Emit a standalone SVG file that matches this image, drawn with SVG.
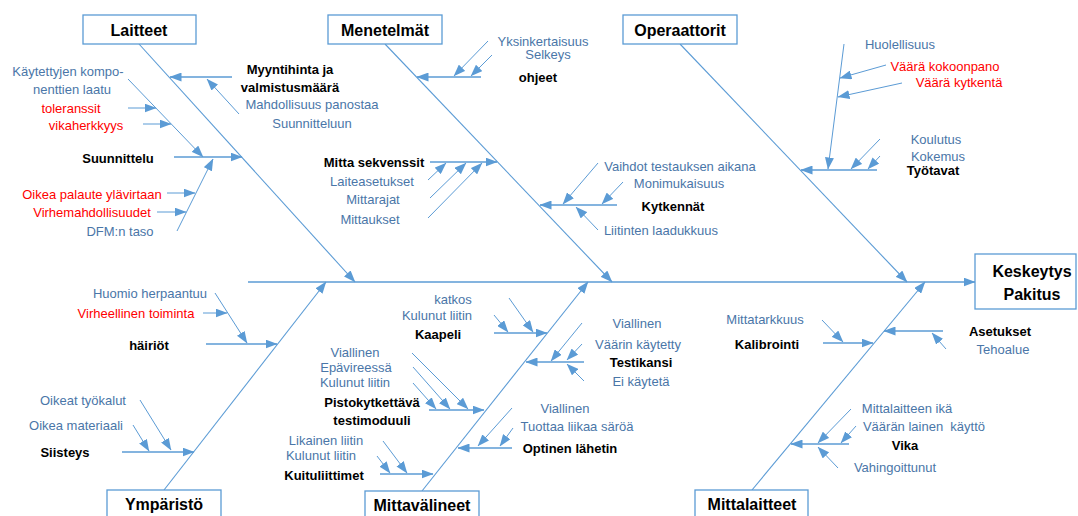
<svg xmlns="http://www.w3.org/2000/svg" width="1078" height="516" viewBox="0 0 1078 516">
<defs>
<marker id="ah" markerUnits="userSpaceOnUse" markerWidth="12" markerHeight="9" refX="11.5" refY="4.5" orient="auto">
<path d="M0,0 L12,4.5 L0,9 z" fill="#5B9BD5"/>
</marker>
<style>
.box{fill:#fff;stroke:#5B9BD5;stroke-width:1.3}
.title{font-family:"Liberation Sans",Arial,sans-serif;font-size:16px;font-weight:bold;fill:#000;text-anchor:middle}
.lb{font-family:"Liberation Sans",Arial,sans-serif;font-size:13px;font-weight:bold;fill:#000;text-anchor:middle}
.bl{font-family:"Liberation Sans",Arial,sans-serif;font-size:13px;fill:#4A76A8;text-anchor:middle}
.rd{font-family:"Liberation Sans",Arial,sans-serif;font-size:13px;fill:#FF0000;text-anchor:middle}
.bone{fill:none;stroke:#5B9BD5;stroke-width:1.1;marker-end:url(#ah)}
.sub{fill:none;stroke:#5B9BD5;stroke-width:1.5;marker-end:url(#ah)}
.twig{fill:none;stroke:#5B9BD5;stroke-width:1;marker-end:url(#ah)}
</style>
</defs>
<rect width="1078" height="516" fill="#fff"/>

<g id="connectors">
<path class="sub" d="M248,282 H975"/>
<path class="bone" d="M139,44 L355,282"/>
<path class="bone" d="M385,44 L612,282"/>
<path class="bone" d="M680,44 L907,282"/>
<path class="bone" d="M164,490 L326,282"/>
<path class="bone" d="M422,491 L588,282"/>
<path class="bone" d="M752,490 L925,282"/>

<path class="sub" d="M232,77 H170"/>
<path class="twig" d="M239,114 L207,79"/>
<path class="twig" d="M128,79 L203,157"/>
<path class="twig" d="M128,108 H156"/>
<path class="twig" d="M143,124 H171"/>
<path class="sub" d="M174,157 H242"/>
<path class="twig" d="M177,231 L213,159"/>
<path class="twig" d="M167,193 H195"/>
<path class="twig" d="M157,212 H186"/>

<path class="sub" d="M481,77 H417"/>
<path class="twig" d="M488,41 L454,76"/>
<path class="twig" d="M492,55 L471,76"/>
<path class="sub" d="M430,162 H497"/>
<path class="twig" d="M428,180 L446,163"/>
<path class="twig" d="M430,198 L466,163"/>
<path class="twig" d="M428,218 L482,163"/>
<path class="sub" d="M617,205 H540"/>
<path class="twig" d="M598,163 L563,204"/>
<path class="twig" d="M623,182 L602,204"/>
<path class="twig" d="M598,230 L576,207"/>

<path class="sub" d="M877,170 H801"/>
<path class="twig" d="M844,44 L828,169"/>
<path class="twig" d="M886,65 L840,78"/>
<path class="twig" d="M902,83 L838,97"/>
<path class="twig" d="M880,139 L851,169"/>
<path class="twig" d="M880,156 L868,169"/>

<path class="twig" d="M203,313 H227"/>
<path class="twig" d="M215,293 L247,343"/>
<path class="sub" d="M206,344 H277"/>
<path class="sub" d="M122,452 H194"/>
<path class="twig" d="M140,400 L171,450"/>
<path class="twig" d="M133,425 L149,451"/>

<path class="sub" d="M494,333 H547"/>
<path class="twig" d="M509,298 L533,332"/>
<path class="twig" d="M494,315 L508,332"/>
<path class="sub" d="M584,362 H526"/>
<path class="twig" d="M582,323 L551,361"/>
<path class="twig" d="M582,344 L567,360"/>
<path class="twig" d="M584,381 L567,364"/>
<path class="sub" d="M429,410 H484"/>
<path class="twig" d="M412,353 L468,409"/>
<path class="twig" d="M413,367 L450,409"/>
<path class="twig" d="M413,383 L436,409"/>
<path class="sub" d="M512,448 H458"/>
<path class="twig" d="M512,408 L478,446"/>
<path class="twig" d="M513,428 L500,446"/>
<path class="sub" d="M380,474 H433"/>
<path class="twig" d="M383,441 L407,473"/>
<path class="twig" d="M377,456 L390,473"/>

<path class="sub" d="M823,343 H873"/>
<path class="twig" d="M822,320 L843,342"/>
<path class="sub" d="M943,331 H884"/>
<path class="twig" d="M946,349 L932,333"/>
<path class="sub" d="M849,444 H791"/>
<path class="twig" d="M851,409 L818,443"/>
<path class="twig" d="M856,426 L841,443"/>
<path class="twig" d="M838,468 L818,447"/>
</g>

<g id="laitteet">
<rect class="box" x="83" y="15" width="113" height="29"/>
<text class="title" x="139" y="36">Laitteet</text>
<text class="lb" x="290" y="74">Myyntihinta ja</text>
<text class="lb" x="290" y="92">valmistusmäärä</text>
<text class="bl" x="312" y="109">Mahdollisuus panostaa</text>
<text class="bl" x="312" y="128">Suunnitteluun</text>
<text class="bl" x="68" y="76">Käytettyjen kompo-</text>
<text class="bl" x="72" y="94">nenttien laatu</text>
<text class="rd" x="71" y="113">toleranssit</text>
<text class="rd" x="86" y="130">vikaherkkyys</text>
<text class="lb" x="118" y="163">Suunnittelu</text>
<text class="rd" x="92" y="199">Oikea palaute ylävirtaan</text>
<text class="rd" x="92" y="217">Virhemahdollisuudet</text>
<text class="bl" x="120" y="236">DFM:n taso</text>
</g>

<g id="menetelmat">
<rect class="box" x="328" y="15" width="114" height="29"/>
<text class="title" x="385" y="36">Menetelmät</text>
<text class="bl" x="543" y="46">Yksinkertaisuus</text>
<text class="bl" x="548" y="59">Selkeys</text>
<text class="lb" x="538" y="82">ohjeet</text>
<text class="lb" x="374" y="167">Mitta sekvenssit</text>
<text class="bl" x="372" y="186">Laiteasetukset</text>
<text class="bl" x="373" y="204">Mittarajat</text>
<text class="bl" x="370" y="224">Mittaukset</text>
<text class="bl" x="680" y="171">Vaihdot testauksen aikana</text>
<text class="bl" x="679" y="188">Monimukaisuus</text>
<text class="lb" x="673" y="211">Kytkennät</text>
<text class="bl" x="661" y="235">Liitinten laadukkuus</text>
</g>

<g id="operaattorit">
<rect class="box" x="623" y="15" width="114" height="29"/>
<text class="title" x="680" y="36">Operaattorit</text>
<text class="bl" x="900" y="49">Huolellisuus</text>
<text class="rd" x="945" y="71">Väärä kokoonpano</text>
<text class="rd" x="959" y="87">Väärä kytkentä</text>
<text class="bl" x="936" y="144">Koulutus</text>
<text class="bl" x="938" y="161">Kokemus</text>
<text class="lb" x="933" y="175">Työtavat</text>
</g>

<g id="ymparisto">
<rect class="box" x="107" y="490" width="114" height="40"/>
<text class="title" x="164" y="510">Ympäristö</text>
<text class="bl" x="150" y="298">Huomio herpaantuu</text>
<text class="rd" x="136" y="318">Virheellinen toiminta</text>
<text class="lb" x="149" y="350">häiriöt</text>
<text class="bl" x="83" y="405">Oikeat työkalut</text>
<text class="bl" x="76" y="430">Oikea materiaali</text>
<text class="lb" x="65" y="457">Siisteys</text>
</g>

<g id="mittavalineet">
<rect class="box" x="365" y="491" width="114" height="40"/>
<text class="title" x="422" y="511">Mittavälineet</text>
<text class="bl" x="453" y="304">katkos</text>
<text class="bl" x="437" y="320">Kulunut liitin</text>
<text class="lb" x="438" y="339">Kaapeli</text>
<text class="bl" x="637" y="328">Viallinen</text>
<text class="bl" x="638" y="349">Väärin käytetty</text>
<text class="lb" x="641" y="367">Testikansi</text>
<text class="bl" x="641" y="386">Ei käytetä</text>
<text class="bl" x="355" y="357">Viallinen</text>
<text class="bl" x="356" y="372">Epävireessä</text>
<text class="bl" x="355" y="387">Kulunut liitin</text>
<text class="lb" x="372" y="407">Pistokytkettävä</text>
<text class="lb" x="372" y="425">testimoduuli</text>
<text class="bl" x="565" y="413">Viallinen</text>
<text class="bl" x="577" y="431">Tuottaa liikaa säröä</text>
<text class="lb" x="570" y="453">Optinen lähetin</text>
<text class="bl" x="326" y="445">Likainen liitin</text>
<text class="bl" x="321" y="460">Kulunut liitin</text>
<text class="lb" x="324" y="480">Kuituliittimet</text>
</g>

<g id="mittalaitteet">
<rect class="box" x="695" y="490" width="113" height="40"/>
<text class="title" x="752" y="510">Mittalaitteet</text>
<text class="bl" x="765" y="324">Mittatarkkuus</text>
<text class="lb" x="767" y="349">Kalibrointi</text>
<text class="lb" x="1000" y="336">Asetukset</text>
<text class="bl" x="1003" y="354">Tehoalue</text>
<text class="bl" x="907" y="413">Mittalaitteen ikä</text>
<text class="bl" x="924" y="431" xml:space="preserve">Väärän lainen  käyttö</text>
<text class="lb" x="905" y="450">Vika</text>
<text class="bl" x="895" y="472">Vahingoittunut</text>
</g>

<g id="keskeytys">
<rect class="box" x="975" y="254" width="101" height="55"/>
<text class="title" x="1032" y="277">Keskeytys</text>
<text class="title" x="1032" y="300">Pakitus</text>
</g>
</svg>
